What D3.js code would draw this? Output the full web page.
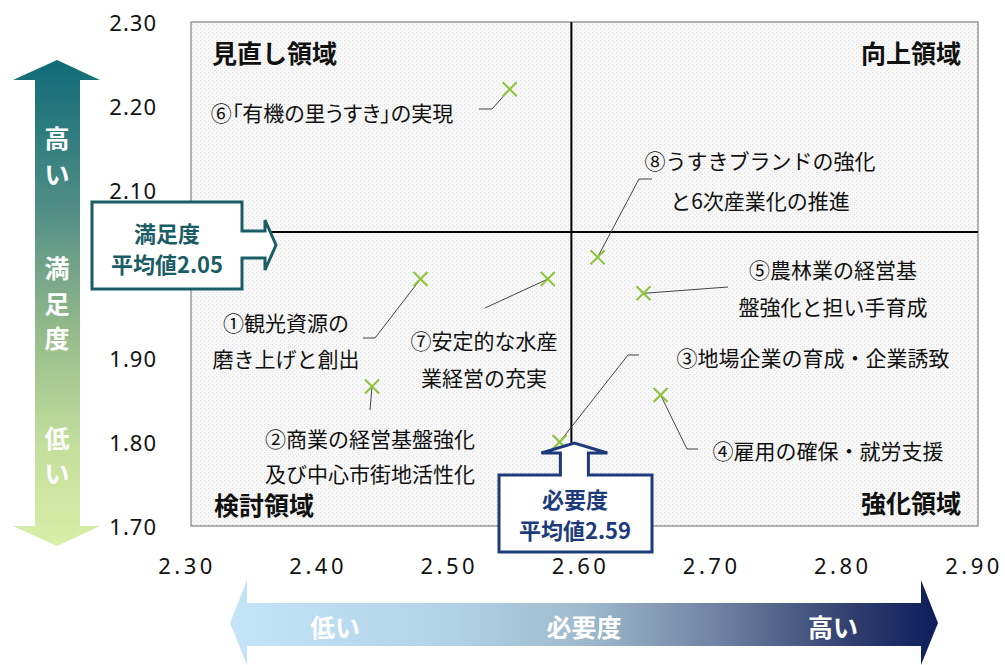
<!DOCTYPE html>
<html>
<head>
<meta charset="utf-8">
<script src="https://d3js.org/d3.v7.min.js"></script>
<style>
body { margin: 0; background: #fff; }
svg { display: block; }
</style>
</head>
<body>
<script>
// 施策ごとの必要度・満足度
const names = [
  ["①観光資源の", "磨き上げと創出"],
  ["②商業の経営基盤強化", "及び中心市街地活性化"],
  ["③地場企業の育成・企業誘致"],
  ["④雇用の確保・就労支援"],
  ["⑤農林業の経営基", "盤強化と担い手育成"],
  ["⑥「有機の里うすき」の実現"],
  ["⑦安定的な水産", "業経営の充実"],
  ["⑧うすきブランドの強化", "と6次産業化の推進"]
];
const necessity    = [2.475, 2.438, 2.581, 2.658, 2.645, 2.543, 2.572, 2.610];
const satisfaction = [1.994, 1.866, 1.800, 1.856, 1.977, 2.220, 1.994, 2.020];
const meanNecessity = 2.59;
const meanSatisfaction = 2.05;
const xTicks = [2.30, 2.40, 2.50, 2.60, 2.70, 2.80, 2.90];
const yTicks = [1.70, 1.80, 1.90, 2.00, 2.10, 2.20, 2.30];
const yTickLabels = ["1.70", "1.80", "1.90", "", "2.10", "2.20", "2.30"];

// ラベル位置（px）と引出線の起点・折れ点
const labelPos = [
  {x: 286, y: [322, 358], line: [[363, 338], [375, 338]]},
  {x: 370, y: [438, 473], line: [[370, 410]]},
  {x: 813, y: [357],      line: [[639, 355], [628, 355]]},
  {x: 828, y: [450],      line: [[698, 449], [687, 449]]},
  {x: 833, y: [269, 306], line: [[728, 287]]},
  {x: 332, y: [112],      line: [[479, 109], [492, 109]]},
  {x: 484, y: [340, 377], line: [[485, 308]]},
  {x: 760, y: [160, 200], line: [[652, 179], [639, 179]]}
];

const W = 1005, H = 665;
const plot = {left: 191, right: 978, top: 22, bottom: 526};
const jp = "'Noto Sans CJK JP', sans-serif";

const x = d3.scaleLinear().domain([2.3, 2.9]).range([plot.left, plot.right]);
const y = d3.scaleLinear().domain([1.7, 2.3]).range([plot.bottom, plot.top]);

const svg = d3.select("body").append("svg")
  .attr("width", W).attr("height", H);

const defs = svg.append("defs");
const pat = defs.append("pattern").attr("id", "tex")
  .attr("width", 4).attr("height", 4).attr("patternUnits", "userSpaceOnUse");
pat.append("rect").attr("width", 4).attr("height", 4).attr("fill", "#f8f8f8");
pat.append("rect").attr("x", 0).attr("y", 0).attr("width", 1).attr("height", 1).attr("fill", "#dedede");
pat.append("rect").attr("x", 2).attr("y", 2).attr("width", 1).attr("height", 1).attr("fill", "#e4e4e4");

const gv = defs.append("linearGradient").attr("id", "gv")
  .attr("x1", 0).attr("y1", 0).attr("x2", 0).attr("y2", 1);
[["0%", "#0f6b77"], ["30%", "#4f8d86"], ["55%", "#93b98a"], ["80%", "#c3e09c"], ["100%", "#d9eea8"]]
  .forEach(s => gv.append("stop").attr("offset", s[0]).attr("stop-color", s[1]));

const gh = defs.append("linearGradient").attr("id", "gh")
  .attr("x1", 0).attr("y1", 0).attr("x2", 1).attr("y2", 0);
[["0%", "#c3e5f7"], ["30%", "#b3d3e6"], ["50%", "#9fbacd"], ["70%", "#6c7f9f"], ["88%", "#2f3e6e"], ["100%", "#0c1d5a"]]
  .forEach(s => gh.append("stop").attr("offset", s[0]).attr("stop-color", s[1]));

// 縦の矢印（満足度）
svg.append("path")
  .attr("d", "M57,60 L100,80 L80,80 L80,526 L100,526 L57,546 L13,526 L35,526 L35,80 L13,80 Z")
  .attr("fill", "url(#gv)");
const vText = [["高", 137], ["い", 173], ["満", 267], ["足", 303], ["度", 337], ["低", 437], ["い", 472]];
svg.selectAll(".vt").data(vText).enter().append("text")
  .attr("x", 57).attr("y", d => d[1])
  .attr("text-anchor", "middle").attr("dominant-baseline", "central")
  .attr("font-family", jp).attr("font-weight", "bold").attr("font-size", 25)
  .attr("fill", "#fff").text(d => d[0]);

// 横の矢印（必要度）
svg.append("path")
  .attr("d", "M230,623 L247,580 L247,603 L921,603 L921,580 L938,623 L921,665 L921,646 L247,646 L247,665 Z")
  .attr("fill", "url(#gh)");
const hText = [["低い", 335], ["必要度", 584], ["高い", 833]];
svg.selectAll(".ht").data(hText).enter().append("text")
  .attr("x", d => d[1]).attr("y", 626)
  .attr("text-anchor", "middle").attr("dominant-baseline", "central")
  .attr("font-family", jp).attr("font-weight", "bold").attr("font-size", 25)
  .attr("fill", "#fff").text(d => d[0]);

// プロット領域
svg.append("rect")
  .attr("x", plot.left).attr("y", plot.top)
  .attr("width", plot.right - plot.left).attr("height", plot.bottom - plot.top)
  .attr("fill", "url(#tex)").attr("stroke", "#808080").attr("stroke-width", 1.2);

// 軸目盛ラベル
svg.selectAll(".yt").data(yTicks).enter().append("text")
  .attr("x", 157).attr("y", d => y(d))
  .attr("text-anchor", "end").attr("dominant-baseline", "central")
  .attr("font-family", "'Noto Sans', sans-serif").attr("font-size", 22)
  .attr("letter-spacing", 1).attr("fill", "#111")
  .text((d, i) => yTickLabels[i]);

svg.selectAll(".xt").data(xTicks).enter().append("text")
  .attr("x", d => x(d) - 4).attr("y", 565)
  .attr("text-anchor", "middle").attr("dominant-baseline", "central")
  .attr("font-family", "'Noto Sans', sans-serif").attr("font-size", 22)
  .attr("letter-spacing", 3.5).attr("fill", "#111")
  .text(d => d.toFixed(2));

// 平均値の線
svg.append("line")
  .attr("x1", x(meanNecessity)).attr("x2", x(meanNecessity))
  .attr("y1", plot.top).attr("y2", plot.bottom)
  .attr("stroke", "#000").attr("stroke-width", 2);
svg.append("line")
  .attr("x1", plot.left).attr("x2", plot.right)
  .attr("y1", y(meanSatisfaction)).attr("y2", y(meanSatisfaction))
  .attr("stroke", "#000").attr("stroke-width", 2);

// 領域名
const quad = [
  ["見直し領域", 212, 52, "start"],
  ["向上領域", 961, 52, "end"],
  ["検討領域", 214, 504, "start"],
  ["強化領域", 961, 502, "end"]
];
svg.selectAll(".qt").data(quad).enter().append("text")
  .attr("x", d => d[1]).attr("y", d => d[2])
  .attr("text-anchor", d => d[3]).attr("dominant-baseline", "central")
  .attr("font-family", jp).attr("font-weight", "bold").attr("font-size", 25)
  .attr("fill", "#111").text(d => d[0]);

// 引出線
svg.selectAll(".leader").data(necessity).enter().append("polyline")
  .attr("points", (d, i) => labelPos[i].line.concat([[x(d), y(satisfaction[i])]]).map(p => p.join(",")).join(" "))
  .attr("fill", "none").attr("stroke", "#444").attr("stroke-width", 1);

// マーカー（×）
const s = 7;
svg.selectAll(".mk").data(necessity).enter().append("path")
  .attr("d", (d, i) => {
    const cx = x(d), cy = y(satisfaction[i]);
    return `M${cx - s},${cy - s}L${cx + s},${cy + s}M${cx - s},${cy + s}L${cx + s},${cy - s}`;
  })
  .attr("stroke", "#8cc43c").attr("stroke-width", 2).attr("fill", "none");

// ラベル
const lg = svg.selectAll(".lb").data(names).enter().append("text")
  .attr("text-anchor", "middle")
  .attr("font-family", jp).attr("font-size", 21).attr("fill", "#111")
  .style("font-feature-settings", (d, i) => i === 5 ? "'palt'" : "normal");
lg.selectAll("tspan").data((d, i) => d.map((t, j) => ({t, x: labelPos[i].x, y: labelPos[i].y[j]})))
  .enter().append("tspan")
  .attr("x", d => d.x).attr("y", d => d.y)
  .attr("dominant-baseline", "central")
  .text(d => d.t);

// 満足度 平均値 吹き出し
const teal = "#1b5d66", navy = "#1d3b7b";
svg.append("path")
  .attr("d", "M92,202 H242 V231 H265 V220 L276,245 L265,270 V258 H242 V289 H92 Z")
  .attr("fill", "#fff").attr("stroke", teal).attr("stroke-width", 3);
svg.selectAll(".ct1").data(["満足度", "平均値" + meanSatisfaction.toFixed(2)]).enter().append("text")
  .attr("x", 167).attr("y", (d, i) => 232 + i * 31)
  .attr("text-anchor", "middle").attr("dominant-baseline", "central")
  .attr("font-family", jp).attr("font-weight", "bold").attr("font-size", 22)
  .attr("fill", teal).text(d => d);

// 必要度 平均値 吹き出し
const cx = x(meanNecessity) + 3;
svg.append("path")
  .attr("d", `M499,475 H${cx - 14} V453 H${cx - 33} L${cx},443 L${cx + 33},453 H${cx + 14} V475 H652 V552 H499 Z`)
  .attr("fill", "#fff").attr("stroke", navy).attr("stroke-width", 3);
svg.selectAll(".ct2").data(["必要度", "平均値" + meanNecessity.toFixed(2)]).enter().append("text")
  .attr("x", 575).attr("y", (d, i) => 498 + i * 31)
  .attr("text-anchor", "middle").attr("dominant-baseline", "central")
  .attr("font-family", jp).attr("font-weight", "bold").attr("font-size", 22)
  .attr("fill", navy).text(d => d);
</script>
</body>
</html>
